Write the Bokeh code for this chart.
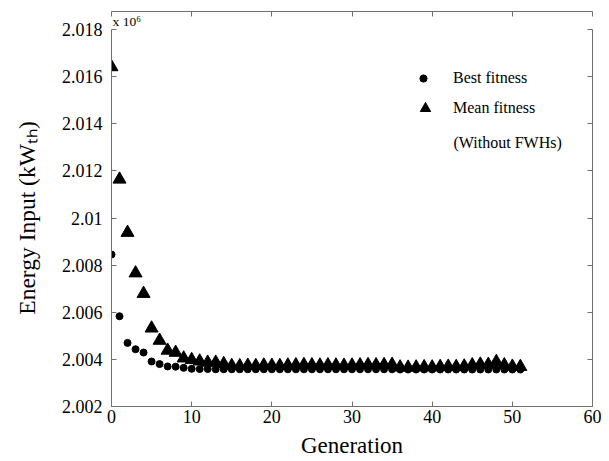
import numpy as np
from bokeh.plotting import figure
from bokeh.models import (Range1d, LinearAxis, FixedTicker, CustomJSTickFormatter,
                          Legend, LegendItem, Label, Title, ColumnDataSource)
from bokeh.embed import file_html
from bokeh.resources import INLINE

# ---- data (energy input, kW_th) ----
generation = list(range(0, 52))
best_fitness = [
    2008450, 2005830, 2004700, 2004430, 2004290, 2003910, 2003800, 2003700, 2003690, 2003640,
    2003600, 2003590, 2003590, 2003580, 2003580, 2003580, 2003580, 2003580, 2003580, 2003580,
    2003580, 2003580, 2003580, 2003580, 2003580, 2003580, 2003580, 2003580, 2003580, 2003580,
    2003580, 2003580, 2003580, 2003580, 2003580, 2003580, 2003570, 2003570, 2003570, 2003570,
    2003570, 2003570, 2003570, 2003570, 2003570, 2003570, 2003570, 2003570, 2003570, 2003570,
    2003570, 2003570,
]
mean_fitness = [
    2016410, 2011640, 2009380, 2007660, 2006790, 2005320, 2004800, 2004380, 2004290, 2004050,
    2003980, 2003920, 2003870, 2003870, 2003810, 2003730, 2003720, 2003740, 2003730, 2003750,
    2003740, 2003730, 2003750, 2003760, 2003770, 2003760, 2003750, 2003760, 2003750, 2003740,
    2003750, 2003760, 2003770, 2003760, 2003770, 2003780, 2003670, 2003660, 2003670, 2003680,
    2003670, 2003690, 2003700, 2003690, 2003710, 2003760, 2003790, 2003780, 2003900, 2003760,
    2003700, 2003690,
]
x_ticks = [0, 10, 20, 30, 40, 50, 60]
y_ticks = [2.002, 2.004, 2.006, 2.008, 2.010, 2.012, 2.014, 2.016, 2.018]
y_tick_labels = ["2.002", "2.004", "2.006", "2.008", "2.01", "2.012", "2.014", "2.016", "2.018"]
scale = 1e6

FONT = "Liberation Serif"
AXIS_GRAY = "#707070"

src = ColumnDataSource(dict(
    gen=generation,
    best=np.array(best_fitness) / scale,
    mean=np.array(mean_fitness) / scale,
))

p = figure(width=609, height=461, output_backend="svg", toolbar_location=None,
           x_range=Range1d(0, 60), y_range=Range1d(2.002, 2.018),
           min_border_left=111, min_border_right=17, min_border_top=29, min_border_bottom=55)
p.xgrid.visible = False
p.ygrid.visible = False
p.outline_line_color = None
p.background_fill_color = "white"
p.border_fill_color = "white"

r_best = p.scatter("gen", "best", source=src, marker="circle", size=7,
                   fill_color="black", line_color="black")
r_mean = p.scatter("gen", "mean", source=src, marker="triangle", size=13,
                   fill_color="black", line_color="black")

ylab_fmt = CustomJSTickFormatter(args=dict(tvals=y_ticks, tlabels=y_tick_labels), code="""
let k = 0, d = 1e9;
for (let i = 0; i < tvals.length; i++) {
  const dd = Math.abs(tvals[i] - tick);
  if (dd < d) { d = dd; k = i; }
}
return tlabels[k];
""")
blank_fmt = CustomJSTickFormatter(code="return '';")


def style_axis(ax):
    ax.axis_line_color = AXIS_GRAY
    ax.major_tick_line_color = AXIS_GRAY
    ax.major_tick_in = 5
    ax.major_tick_out = 0
    ax.minor_tick_line_color = None
    ax.major_label_text_font = FONT
    ax.major_label_text_font_size = "18px"
    ax.major_label_text_color = "black"
    ax.axis_label_text_font = FONT
    ax.axis_label_text_font_style = "normal"
    ax.axis_label_text_color = "black"


xa = p.xaxis[0]
style_axis(xa)
xa.ticker = FixedTicker(ticks=x_ticks)
xa.major_label_standoff = 3
xa.axis_label = "Generation"
xa.axis_label_text_font_size = "23px"
xa.axis_label_standoff = 7

ya = p.yaxis[0]
style_axis(ya)
ya.ticker = FixedTicker(ticks=y_ticks)
ya.formatter = ylab_fmt
ya.major_label_standoff = 9
ya.axis_label = "Energy Input (kW\u209c\u2095)"
ya.axis_label_text_font_size = "23.5px"
ya.axis_label_standoff = 19

p.add_layout(Title(text="x 10\u2076", align="left", text_font=FONT, text_font_size="13.5px",
                   text_font_style="normal", text_color="black", standoff=1, offset=1), "above")

top = LinearAxis(ticker=FixedTicker(ticks=x_ticks), formatter=blank_fmt)
style_axis(top)
top.major_label_text_font_size = "1px"
top.major_label_standoff = 0
p.add_layout(top, "above")

right = LinearAxis(ticker=FixedTicker(ticks=y_ticks), formatter=blank_fmt)
style_axis(right)
right.major_label_text_font_size = "1px"
right.major_label_standoff = 0
p.add_layout(right, "right")

# legends
leg1 = Legend(items=[LegendItem(label="Best fitness", renderers=[r_best])],
              location=(303, 319), glyph_width=18, glyph_height=18, label_height=18,
              label_standoff=21, padding=0, margin=0, spacing=0,
              border_line_color=None, background_fill_alpha=0,
              label_text_font=FONT, label_text_font_size="16px", label_text_color="black")
leg2 = Legend(items=[LegendItem(label="Mean fitness", renderers=[r_mean])],
              location=(301, 285), glyph_width=26, glyph_height=26, label_height=26,
              label_standoff=15, padding=0, margin=0, spacing=0,
              border_line_color=None, background_fill_alpha=0,
              label_text_font=FONT, label_text_font_size="16px", label_text_color="black")
p.add_layout(leg1)
p.add_layout(leg2)

p.add_layout(Label(x=342, y=264, x_units="screen", y_units="screen", text="(Without FWHs)",
                   text_font=FONT, text_font_size="16px", text_color="black",
                   text_baseline="middle"))

open("out.html", "w").write(file_html(p, INLINE))
